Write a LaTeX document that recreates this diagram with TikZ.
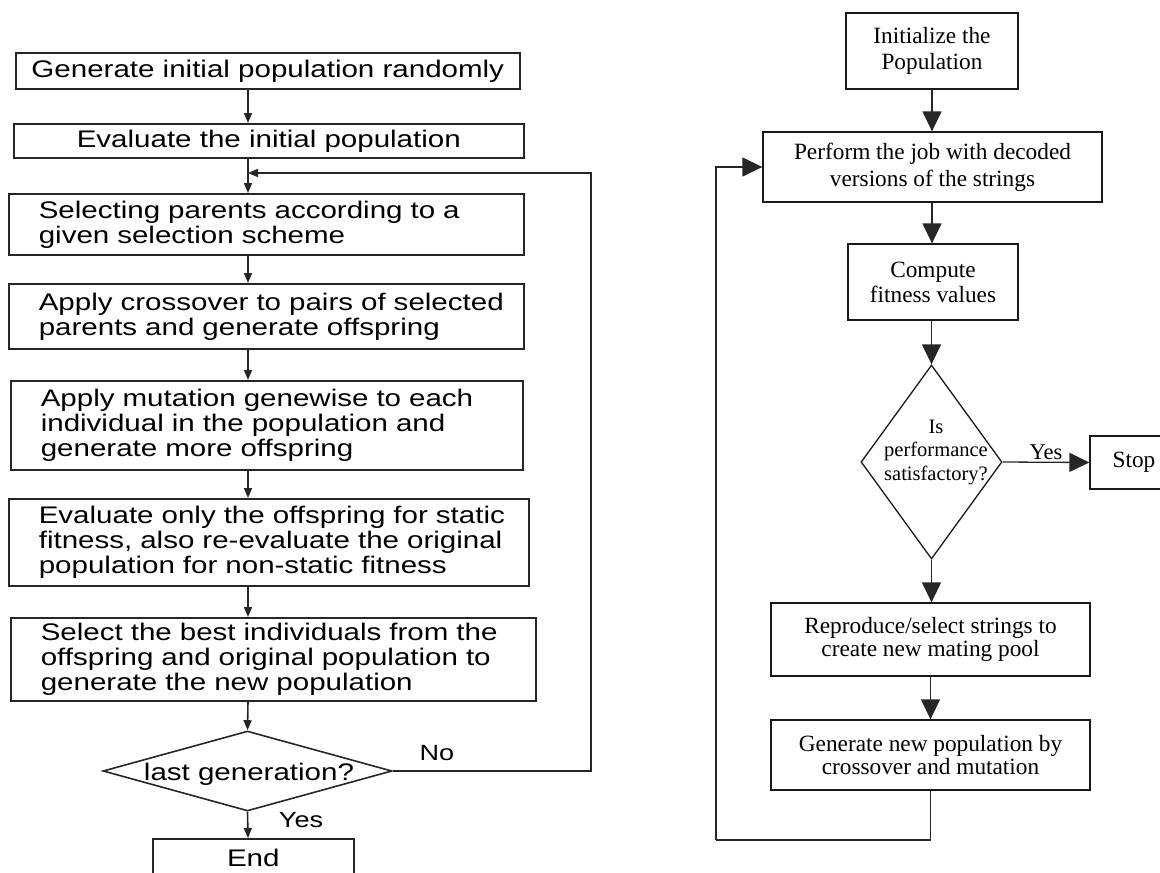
\documentclass[tikz,border=0pt]{standalone}
\usepackage{fontspec}
\setmainfont{Liberation Serif}
\newfontfamily\lfont[FakeStretch=1.23]{Liberation Sans}
\usetikzlibrary{shapes.geometric, arrows.meta}

\begin{document}
\begin{tikzpicture}[x=1pt, y=-1pt,
	lbox/.style={draw=black!85, line width=1.6pt, inner sep=0pt, align=center,
		font=\lfont\fontsize{24}{25}\selectfont},
	ltext/.style={lbox, text width=#1, inner xsep=15pt, align=left,
		execute at begin node={\leftskip=15pt}},
	ldec/.style={draw=black!85, line width=1.6pt, diamond, inner sep=0pt,
		minimum width=289pt, minimum height=80pt},
	llabel/.style={font=\lfont\fontsize{22}{25}\selectfont, inner sep=0pt},
	larr/.style={draw=black!85, line width=1.6pt, -{Triangle[length=10pt,width=8pt]}},
	rbox/.style={draw=black!90, line width=1.3pt, inner sep=0pt, align=center,
		font=\fontsize{23.3}{26.7}\selectfont},
	rdec/.style={draw=black!90, line width=1.3pt, diamond, inner sep=0pt,
		minimum width=141pt, minimum height=194pt},
	rarr/.style={draw=black!85, line width=1.3pt, -{Triangle[length=20pt,width=19pt]}}]
	\useasboundingbox (0,0) rectangle (1160,873);

	\node [lbox, minimum width=504pt, minimum height=36pt, anchor=north west] (genpop) at (15,52) {Generate initial population randomly};
	\node [lbox, minimum width=510pt, minimum height=34pt, anchor=north west] (evalinit) at (13,123) {Evaluate the initial population};
	\node [ltext=485pt, minimum height=61pt, anchor=north west] (selpar) at (8,193) {Selecting parents according to a\\given selection scheme};
	\node [ltext=485pt, minimum height=65pt, anchor=north west] (cross) at (8,283) {Apply crossover to pairs of selected\\parents and generate offspring};
	\node [ltext=482pt, minimum height=89pt, anchor=north west] (mutate) at (10,380) {Apply mutation genewise to each\\individual in the population and\\generate more offspring};
	\node [ltext=490pt, minimum height=87pt, anchor=north west] (evaloff) at (8,498) {Evaluate only the offspring for static\\fitness, also re-evaluate the original\\population for non-static fitness};
	\node [ltext=495pt, minimum height=83pt, anchor=north west] (best) at (10,617) {Select the best individuals from the\\offspring and original population to\\generate the new population};
	\node [ldec] (lastgen) at (247.5,771) {};
	\node [llabel, font=\lfont\fontsize{24}{25}\selectfont] (lastgentxt) at (249,774) {last generation?};
	\node [lbox, minimum width=201pt, minimum height=38pt, anchor=north west] (endn) at (152,838) {End};
	\node [llabel] (nolbl) at (437,753) {No};
	\node [llabel] (yeslbl) at (301,820) {Yes};

	\coordinate (lcol) at (248,0);
	\coordinate (ljoin) at (248,173);
	\coordinate (lback) at (591,0);
	\draw [larr] (genpop.south -| lcol) -- (evalinit.north -| lcol);
	\draw [larr] (evalinit.south -| lcol) -- (selpar.north -| lcol);
	\draw [larr] (selpar.south -| lcol) -- (cross.north -| lcol);
	\draw [larr] (cross.south -| lcol) -- (mutate.north -| lcol);
	\draw [larr] (mutate.south -| lcol) -- (evaloff.north -| lcol);
	\draw [larr] (evaloff.south -| lcol) -- (best.north -| lcol);
	\draw [larr] (best.south -| lcol) -- (lastgen.north);
	\draw [larr] (lastgen.south) -- (endn.north -| lcol);
	\draw [larr] (lastgen.east) -- (lastgen.east -| lback) |- (ljoin);

	\node [rbox, minimum width=172pt, minimum height=76pt] (init) at (932,51) {Initialize the\\Population};
	\node [rbox, minimum width=339pt, minimum height=70pt] (perform) at (932.5,167) {Perform the job with decoded\\versions of the strings};
	\node [rbox, minimum width=170pt, minimum height=76pt, font=\fontsize{23.3}{25}\selectfont] (compute) at (933,282) {Compute\\fitness values};
	\node [rdec] (perf) at (931.5,462) {};
	\node [align=center, inner sep=0pt, font=\fontsize{20.5}{23.5}\selectfont] (perftxt) at (936,452) {Is\\performance\\satisfactory?};
	\node [rbox, minimum width=88pt, minimum height=53pt] (stop) at (1134,462.5) {Stop};
	\node [rbox, minimum width=319pt, minimum height=73pt, font=\fontsize{23.3}{23.3}\selectfont] (repro) at (930.5,639.5) {Reproduce/select strings to\\create new mating pool};
	\node [rbox, minimum width=319pt, minimum height=70pt, font=\fontsize{23.3}{23.3}\selectfont] (newpop) at (930.5,755) {Generate new population by\\crossover and mutation};

	\coordinate (rback) at (716,840);
	\draw [rarr] (init.south) -- (perform.north -| init.south);
	\draw [rarr] (perform.south -| init.south) -- (compute.north -| init.south);
	\draw [rarr] (compute.south -| perf.north) -- (perf.north);
	\draw [rarr] (perf.east) -- node [above=2pt, inner sep=0pt, font=\fontsize{22.5}{25}\selectfont] (yesr) {Yes} (stop.west);
	\draw [rarr] (perf.south) -- (repro.north -| perf.south);
	\draw [rarr] (repro.south) -- (newpop.north);
	\draw [draw=black!85, line width=1.3pt] (newpop.south) |- (rback);
	\draw [rarr] (rback) |- (perform.west);
\end{tikzpicture}
\end{document}
